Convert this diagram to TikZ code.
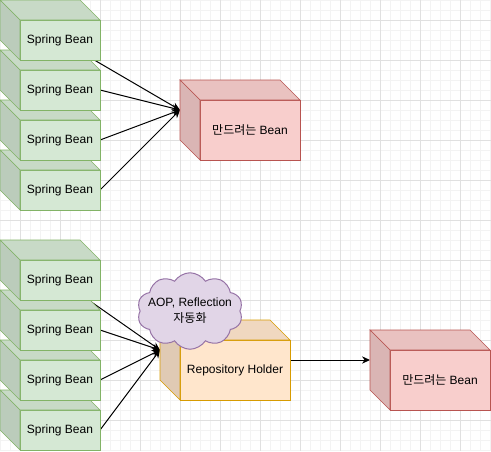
\documentclass[tikz,border=0pt]{standalone}
\usepackage{fontspec}
\setmainfont{Liberation Sans}
\newfontfamily\kr{Noto Sans CJK KR}
\usetikzlibrary{calc, arrows.meta, shapes.symbols}

\definecolor{sbfill}{HTML}{D5E8D4}
\definecolor{sbline}{HTML}{82B366}
\definecolor{mkfill}{HTML}{F8CECC}
\definecolor{mkline}{HTML}{B85450}
\definecolor{rhfill}{HTML}{FFE6CC}
\definecolor{rhline}{HTML}{D79B00}
\definecolor{aopfill}{HTML}{E1D5E7}
\definecolor{aopline}{HTML}{9673A6}
\definecolor{gridminor}{HTML}{F3F3F3}
\definecolor{gridmajor}{HTML}{E0E0E0}

\pgfdeclarelayer{grid}
\pgfdeclarelayer{edges}
\pgfsetlayers{grid,edges,main}

% side faces of a cube, depth 20px, behind the front node #1
\newcommand{\cubesides}[3]{%
    \filldraw[draw=#3, fill=#2!94!black] (#1.north west) -- ++(-20,-20) -- ++($(#1.north east)-(#1.north west)$) -- (#1.north east) -- cycle;
    \filldraw[draw=#3, fill=#2!88!black] (#1.north west) -- ++(-20,-20) -- ++($(#1.south west)-(#1.north west)$) -- (#1.south west) -- cycle;
}

\tikzset{
    front/.style={draw, outer sep=0pt, inner sep=0pt, line width=0.75pt, font=\fontsize{9}{11}\selectfont},
    sbean/.style={front, draw=sbline, fill=sbfill, minimum width=60pt, minimum height=30pt},
    mkbean/.style={front, draw=mkline, fill=mkfill, minimum width=75pt, minimum height=45pt},
    holder/.style={front, draw=rhline, fill=rhfill, minimum width=82.5pt, minimum height=45pt},
    aop/.style={cloud, cloud puffs=10, cloud puff arc=115, cloud ignores aspect, draw=aopline, fill=aopfill, line width=0.75pt,
        inner xsep=-5pt, inner ysep=7pt, align=center, font=\fontsize{9}{12}\selectfont},
    arr/.style={line width=0.75pt, -{Stealth[length=6pt, width=5.5pt]}},
}

\begin{document}
\begin{tikzpicture}[x=0.75pt, y=-0.75pt, line width=0.75pt]
    \useasboundingbox (0,0) rectangle (491,451);

    \begin{pgfonlayer}{grid}
        \foreach \x in {0,10,...,490}
            \draw[gridminor] (\x,0) -- (\x,451);
        \foreach \y in {0,10,...,450}
            \draw[gridminor] (0,\y) -- (491,\y);
        \foreach \x in {20,60,...,460}
            \draw[gridmajor] (\x,0) -- (\x,451);
        \foreach \y in {20,60,...,420}
            \draw[gridmajor] (0,\y) -- (491,\y);
    \end{pgfonlayer}

    % upper stack
    \foreach \i in {4,3,2,1}{
        \node[sbean] (sb\i) at (60,{40+50*(\i-1)}) {Spring Bean};
        \cubesides{sb\i}{sbfill}{sbline}
    }
    \node[mkbean] (mk1) at (250,130) {{\kr 만드려는} Bean};
    \cubesides{mk1}{mkfill}{mkline}
    \coordinate (mk1in) at ($(mk1.west)+(-20,-20)$);

    % lower stack
    \foreach \i in {8,7,6,5}{
        \node[sbean] (sb\i) at (60,{280+50*(\i-5)}) {Spring Bean};
        \cubesides{sb\i}{sbfill}{sbline}
    }
    \node[holder] (rh) at (235,370) {Repository Holder};
    \cubesides{rh}{rhfill}{rhline}
    \coordinate (rhin) at ($(rh.west)+(-20,-20)$);
    \node[aop] (cl) at (190,311) {AOP, Reflection\\{\kr 자동화}};

    \node[mkbean] (mk2) at (440,380) {{\kr 만드려는} Bean};
    \cubesides{mk2}{mkfill}{mkline}
    \coordinate (mk2in) at ($(mk2.west)+(-20,-20)$);

    \begin{pgfonlayer}{edges}
        \draw[arr] (sb1.center) -- (mk1in);
        \foreach \i in {2,3,4}
            \draw[arr] (sb\i.east) -- (mk1in);
        \draw[arr] (sb5.center) -- (rhin);
        \foreach \i in {6,7,8}
            \draw[arr] (sb\i.east) -- (rhin);
        \draw[arr] (rh.east |- mk2in) -- (mk2in);
    \end{pgfonlayer}
\end{tikzpicture}
\end{document}
